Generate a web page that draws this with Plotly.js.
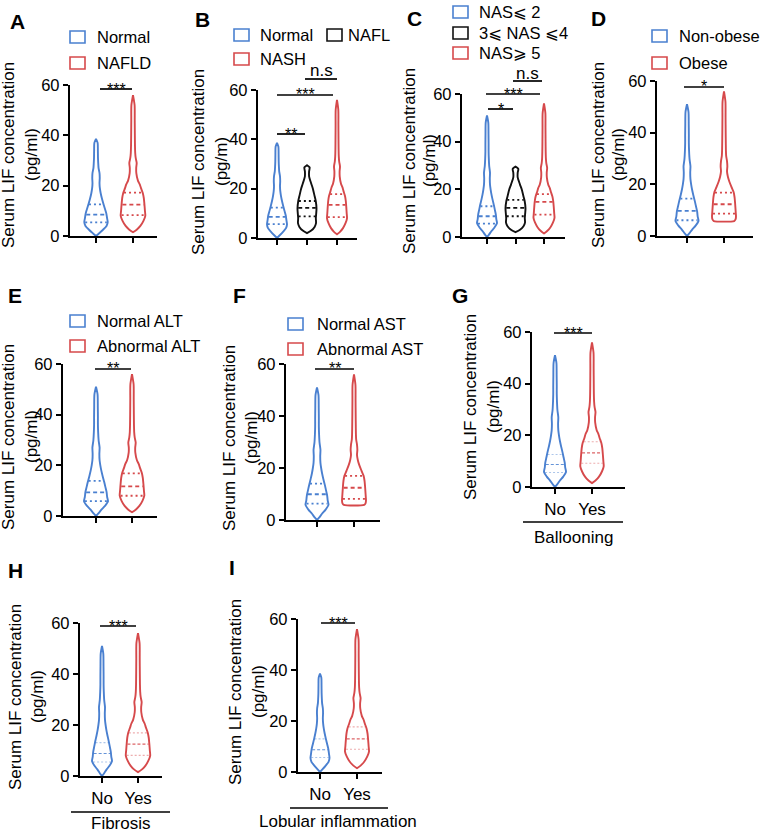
<!DOCTYPE html>
<html><head><meta charset="utf-8">
<script src="https://cdn.plot.ly/plotly-3.0.1.min.js"></script>
<style>html,body{margin:0;padding:0;background:#fff}</style>
</head><body><div id="chart" style="width:762px;height:833px"></div>
<script>
// ---------------- DATA ----------------
const groupsA = ['Normal', 'NAFLD'];
const groupsB = ['Normal', 'NAFL', 'NASH'];
const groupsC = ['NAS\u2A7D 2', '3\u2A7D NAS \u2A7D4', 'NAS\u2A7E 5'];
const groupsD = ['Non-obese', 'Obese'];
const groupsE = ['Normal ALT', 'Abnormal ALT'];
const groupsF = ['Normal AST', 'Abnormal AST'];
const groupsYesNo = ['No', 'Yes'];
const groupTitles = ['Ballooning', 'Fibrosis', 'Lobular inflammation'];
const yTicks = [0, 20, 40, 60];

// density profiles: value levels (pg/ml) and relative width (0..1)
const blueShortLevels  = [0, 1, 2.5, 4, 5.5, 7, 9, 11, 13, 15, 17, 19, 21, 23, 25, 27, 29, 31, 34, 37, 38.6];
const blueShortDensity = [0, .25, .6, .9, 1, .95, .88, .75, .62, .5, .4, .33, .3, .32, .3, .22, .19, .17, .16, .14, 0];
const blueLongLevels   = [0, 1, 2.5, 4, 5.8, 7.5, 9.5, 11.5, 13.5, 16, 18, 20, 22, 24.5, 27, 29.8, 33, 36, 39, 43, 48, 51];
const blueLongDensity  = [0, .2, .45, .75, 1, .93, .88, .78, .68, .54, .44, .36, .3, .28, .3, .22, .18, .16, .16, .15, .13, 0];
const redLevels        = [1.5, 2.5, 4, 6, 8, 10, 12.5, 15, 17, 19, 20.5, 22, 25, 27, 29, 31, 33, 36, 40, 46, 52, 56];
const redDensity       = [0, .3, .6, .85, 1, .97, .93, .88, .8, .65, .55, .4, .27, .26, .3, .22, .18, .16, .15, .14, .13, 0];
const redFlatLevels    = [5.8, 6.4, 7.5, 9, 11, 13, 15, 17, 19, 21, 23, 25, 27, 29, 31, 33, 36, 40, 46, 52, 56];
const redFlatDensity   = [.85, .96, 1, .98, .95, .92, .88, .8, .62, .45, .32, .25, .28, .25, .18, .16, .15, .14, .13, .12, 0];
const blackLevels      = [2, 3, 4.5, 6, 8, 10, 12, 15, 17, 20, 22, 25, 27, 28.6, 29.5];
const blackDensity     = [0, .45, .8, .95, .93, .97, 1, .92, .8, .62, .45, .22, .22, .28, 0];

// quartiles [Q1, median, Q3] per group
const quartA = [[5.4, 8.5, 12.6], [8.3, 12.5, 17.2]];
const quartB = [[5.6, 8.6, 12.3], [8.8, 12.2, 15.0], [8.5, 13.4, 17.8]];
const quartC = [[5.6, 8.7, 12.9], [8.7, 12.2, 15.6], [9.4, 14.7, 18.0]];
const quartD = [[6.1, 9.7, 14.5], [8.7, 12.3, 16.8]];
const quartE = [[5.9, 9.3, 13.9], [8.0, 11.7, 16.8]];
const quartF = [[6.3, 9.9, 14.0], [8.1, 12.4, 17.0]];
const quartG = [[5.6, 8.7, 12.6], [9.2, 13.2, 17.5]];
const quartH = [[5.5, 8.8, 13.1], [8.1, 12.5, 16.9]];
const quartI = [[5.7, 8.7, 13.0], [8.9, 13.0, 17.7]];

// significance labels
const sigA = ['***'];
const sigB = ['**', '***', 'n.s'];
const sigC = ['*', '***', 'n.s'];
const sigD = ['*'];
const sigE = ['**'];
const sigF = ['**'];
const sigG = ['***'];
const sigH = ['***'];
const sigI = ['***'];

const yTitle = 'Serum LIF concentration';
const yUnit = '(pg/ml)';
const yUnitB = '(pg/m)';

// ---------------- STYLE / LAYOUT ----------------
const W = 762, H = 833;
const FONT = 'Liberation Sans, Arial, DejaVu Sans, sans-serif';
const COL = {blue: '#4a80d0', red: '#d6494b', black: '#111111'};
const PROF = {
  blueShort: [blueShortLevels, blueShortDensity],
  blueLong: [blueLongLevels, blueLongDensity],
  red: [redLevels, redDensity],
  redFlat: [redFlatLevels, redFlatDensity],
  black: [blackLevels, blackDensity]
};
const fx = px => px / W;
const fy = py => 1 - py / H;

const panels = [
  {letter: 'A', groups: groupsA, quart: quartA, sig: sigA, unit: yUnit,
   xL: 70, xR: 157, y0: 236, y60: 85, cats: [96, 133], hw: [11.7, 12.3],
   prof: ['blueShort', 'red'], colors: ['blue', 'red'],
   titleX: [8, 31], titleY: 155, letterPos: [17, 21],
   legend: [[70, 37, 95], [70, 63, 95]], brackets: [[100, 132, 89]]},
  {letter: 'B', groups: groupsB, quart: quartB, sig: sigB, unit: yUnitB,
   xL: 258, xR: 357, y0: 238, y60: 90, cats: [277, 307, 337], hw: [10, 9.5, 10],
   prof: ['blueShort', 'black', 'red'], colors: ['blue', 'black', 'red'],
   titleX: [198, 221], titleY: 162, letterPos: [202, 20],
   legend: [[234, 35, 258], [327, 35, 346], [234, 59, 258]],
   brackets: [[277, 305, 134], [277, 333, 95], [305, 337, 79]]},
  {letter: 'C', groups: groupsC, quart: quartC, sig: sigC, unit: yUnit,
   xL: 462, xR: 565, y0: 237, y60: 94, cats: [487, 515, 544], hw: [10, 10, 10.5],
   prof: ['blueLong', 'black', 'red'], colors: ['blue', 'black', 'red'],
   titleX: [410, 430], titleY: 161, letterPos: [414, 19],
   legend: [[453, 12, 477], [453, 33, 477], [453, 53, 477]],
   brackets: [[488, 513, 109], [486, 540, 94], [513, 542, 81]]},
  {letter: 'D', groups: groupsD, quart: quartD, sig: sigD, unit: yUnit,
   xL: 657, xR: 753, y0: 236, y60: 81, cats: [687, 724], hw: [11.5, 12],
   prof: ['blueLong', 'redFlat'], colors: ['blue', 'red'],
   titleX: [598, 618], titleY: 155, letterPos: [598, 18],
   legend: [[652, 36, 677], [652, 63, 677]], brackets: [[684, 724, 87]]},
  {letter: 'E', groups: groupsE, quart: quartE, sig: sigE, unit: yUnit,
   xL: 63, xR: 157, y0: 516, y60: 364, cats: [96, 132], hw: [12, 12.3],
   prof: ['blueLong', 'red'], colors: ['blue', 'red'],
   titleX: [8, 31], titleY: 437, letterPos: [15, 295],
   legend: [[70, 321, 95], [70, 346, 95]], brackets: [[95, 131, 369]]},
  {letter: 'F', groups: groupsF, quart: quartF, sig: sigF, unit: yUnit,
   xL: 286, xR: 380, y0: 520, y60: 364, cats: [317, 354], hw: [11.5, 12],
   prof: ['blueLong', 'redFlat'], colors: ['blue', 'red'],
   titleX: [229, 251], titleY: 438, letterPos: [239, 295],
   legend: [[288, 324, 315], [288, 349, 315]], brackets: [[315, 354, 369]]},
  {letter: 'G', groups: groupsYesNo, quart: quartG, sig: sigG, unit: yUnit, light: true,
   xL: 532, xR: 625, y0: 487, y60: 332, cats: [555, 592], hw: [11, 11.7],
   prof: ['blueLong', 'red'], colors: ['blue', 'red'],
   titleX: [470, 493], titleY: 407, letterPos: [460, 295],
   brackets: [[554, 592, 333]], group: {title: groupTitles[0], line: [523, 623, 522], pos: [573, 537]}},
  {letter: 'H', groups: groupsYesNo, quart: quartH, sig: sigH, unit: yUnit, light: true,
   xL: 80, xR: 162, y0: 776, y60: 623, cats: [102, 138], hw: [10, 12.2],
   prof: ['blueLong', 'red'], colors: ['blue', 'red'],
   titleX: [15, 37], titleY: 697, letterPos: [15, 570],
   brackets: [[100, 136, 626]], group: {title: groupTitles[1], line: [71, 170, 812], pos: [121, 823]}},
  {letter: 'I', groups: groupsYesNo, quart: quartI, sig: sigI, unit: yUnit, light: true,
   xL: 298, xR: 382, y0: 772, y60: 619, cats: [320, 357], hw: [9.5, 12],
   prof: ['blueShort', 'red'], colors: ['blue', 'red'],
   titleX: [235, 258], titleY: 692, letterPos: [232, 567],
   brackets: [[321, 355, 623]], group: {title: groupTitles[2], line: [290, 388, 808], pos: [338, 821]}}
];

function interp(levels, dens, v) {
  if (v <= levels[0]) return dens[0];
  for (let i = 1; i < levels.length; i++) {
    if (v <= levels[i]) {
      const t = (v - levels[i - 1]) / (levels[i] - levels[i - 1]);
      return dens[i - 1] + t * (dens[i] - dens[i - 1]);
    }
  }
  return dens[dens.length - 1];
}

const traces = [];
const layout = {
  width: W, height: H, margin: {l: 0, r: 0, t: 0, b: 0},
  paper_bgcolor: '#fff', plot_bgcolor: 'rgba(0,0,0,0)',
  showlegend: false, font: {family: FONT, color: '#000'},
  shapes: [], annotations: []
};

panels.forEach((p, pi) => {
  const s = pi === 0 ? '' : String(pi + 1);
  const xa = 'x' + s, ya = 'y' + s;
  const n = p.groups.length;
  const sp = (p.cats[n - 1] - p.cats[0]) / (n - 1);
  const idx = p.groups.map((g, i) => i);

  layout['xaxis' + s] = {
    domain: [fx(p.xL), fx(p.xR)], anchor: ya,
    range: [(p.xL - p.cats[0]) / sp, (p.xR - p.cats[0]) / sp],
    showline: true, linewidth: 2.2, linecolor: '#000', mirror: false,
    ticks: 'outside', ticklen: 5, tickwidth: 2, tickcolor: '#000',
    tickvals: idx, ticktext: p.groups,
    showticklabels: !!p.light, tickfont: {size: 17, family: FONT, color: '#000'},
    showgrid: false, zeroline: false, fixedrange: true
  };
  layout['yaxis' + s] = {
    domain: [fy(p.y0), fy(p.y60)], anchor: xa, range: [0, 60],
    showline: true, linewidth: 2.2, linecolor: '#000',
    ticks: 'outside', ticklen: 5, tickwidth: 2, tickcolor: '#000',
    tickvals: yTicks, tickfont: {size: 16.5, family: FONT, color: '#000'},
    showgrid: false, zeroline: false, fixedrange: true
  };

  p.groups.forEach((g, gi) => {
    const [lv, dn] = PROF[p.prof[gi]];
    const sc = p.hw[gi] / sp;
    const col = COL[p.colors[gi]];
    const xs = [], ys = [];
    for (let i = 0; i < lv.length; i++) { xs.push(gi + dn[i] * sc); ys.push(lv[i]); }
    for (let i = lv.length - 1; i >= 0; i--) { xs.push(gi - dn[i] * sc); ys.push(lv[i]); }
    xs.push(xs[0]); ys.push(ys[0]);
    traces.push({type: 'scatter', mode: 'lines', x: xs, y: ys, xaxis: xa, yaxis: ya,
      line: {color: col, width: 1.9, shape: 'spline', smoothing: 0.7}, hoverinfo: 'skip', cliponaxis: false});
    p.quart[gi].forEach((q, qi) => {
      const w = interp(lv, dn, q) * sc * 0.93;
      const isMed = qi === 1;
      let line;
      if (p.light) {
        line = isMed ? {color: col, width: 1.1, dash: '3px,2px'} : {color: col, width: 1.1, dash: '2px,2px'};
      } else {
        line = isMed ? {color: col, width: 1.8, dash: '4px,3px'} : {color: col, width: 1.8, dash: '2px,3px'};
      }
      traces.push({type: 'scatter', mode: 'lines', x: [gi - w, gi + w], y: [q, q], xaxis: xa, yaxis: ya,
        line: line, opacity: (p.light && !isMed) ? 0.45 : (p.light ? 0.85 : 1), hoverinfo: 'skip'});
    });
  });

  // panel letter
  layout.annotations.push({text: p.letter, x: fx(p.letterPos[0]), y: fy(p.letterPos[1]), xref: 'paper', yref: 'paper',
    showarrow: false, xanchor: 'center', yanchor: 'middle', font: {size: 21, family: FONT, color: '#000', weight: 'bold'}});
  // y titles
  [yTitle, p.unit].forEach((t, ti) => {
    layout.annotations.push({text: t, x: fx(p.titleX[ti]), y: fy(p.titleY), xref: 'paper', yref: 'paper',
      showarrow: false, textangle: -90, xanchor: 'center', yanchor: 'middle', font: {size: 17, family: FONT, color: '#000'}});
  });
  // legend
  if (p.legend) {
    p.legend.forEach((L, li) => {
      const col = COL[p.colors[li]];
      layout.shapes.push({type: 'rect', xref: 'paper', yref: 'paper', x0: fx(L[0]), x1: fx(L[0] + 15),
        y0: fy(L[1] + 6), y1: fy(L[1] - 6), line: {color: col, width: 1.6}, fillcolor: 'rgba(0,0,0,0)'});
      layout.annotations.push({text: p.groups[li], x: fx(L[2]), y: fy(L[1]), xref: 'paper', yref: 'paper',
        showarrow: false, xanchor: 'left', yanchor: 'middle', font: {size: 16.5, family: FONT, color: '#000'}});
    });
  }
  // significance brackets
  p.brackets.forEach((b, bi) => {
    layout.shapes.push({type: 'line', xref: 'paper', yref: 'paper', x0: fx(b[0]), x1: fx(b[1]),
      y0: fy(b[2]), y1: fy(b[2]), line: {color: '#000', width: 1.7}});
    const lab = p.sig[bi];
    const isNs = lab === 'n.s';
    layout.annotations.push({text: lab, x: fx((b[0] + b[1]) / 2), y: fy(b[2] - (isNs ? 8 : 0)), xref: 'paper', yref: 'paper',
      showarrow: false, xanchor: 'center', yanchor: 'middle', font: {size: isNs ? 17 : 16, family: FONT, color: '#000'}});
  });
  // grouping line and label
  if (p.group) {
    const gl = p.group.line;
    layout.shapes.push({type: 'line', xref: 'paper', yref: 'paper', x0: fx(gl[0]), x1: fx(gl[1]),
      y0: fy(gl[2]), y1: fy(gl[2]), line: {color: '#000', width: 1.6}});
    layout.annotations.push({text: p.group.title, x: fx(p.group.pos[0]), y: fy(p.group.pos[1]), xref: 'paper', yref: 'paper',
      showarrow: false, xanchor: 'center', yanchor: 'middle', font: {size: 17, family: FONT, color: '#000'}});
  }
});

Plotly.newPlot('chart', traces, layout, {displayModeBar: false, staticPlot: true});
</script></body></html>
